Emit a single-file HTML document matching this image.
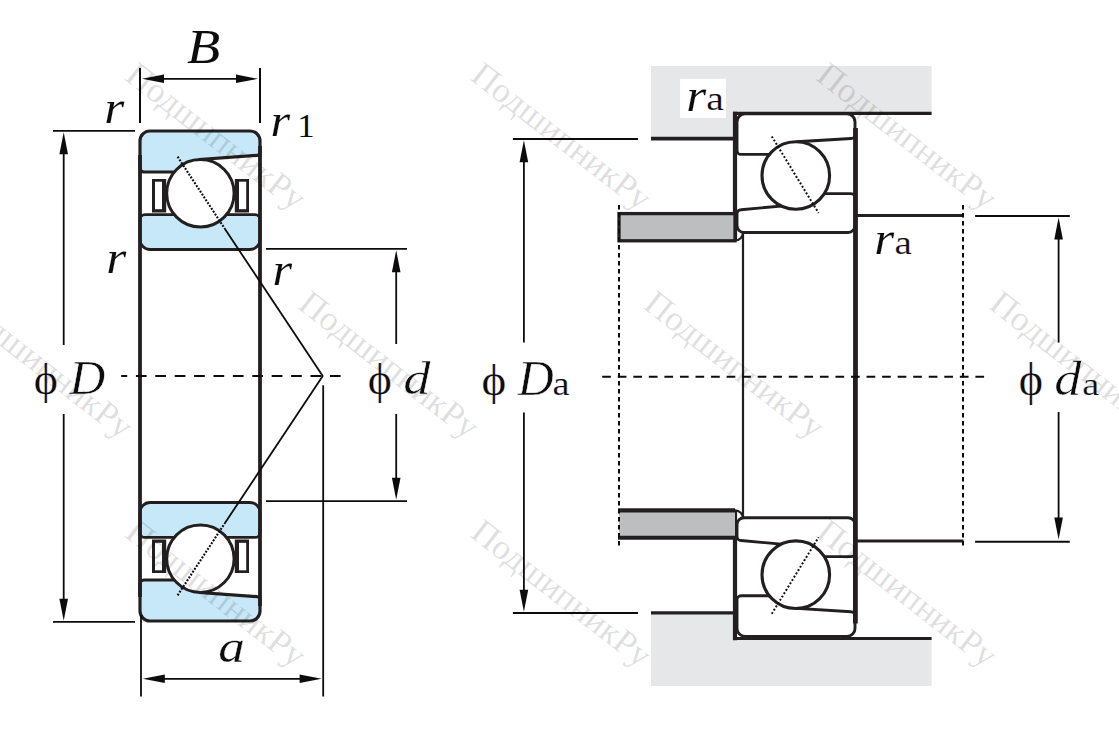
<!DOCTYPE html>
<html><head><meta charset="utf-8"><style>
html,body{margin:0;padding:0;background:#fff;overflow:hidden;}
svg{display:block;font-family:"Liberation Serif",serif;}
</style></head><body>
<svg width="1119" height="738" viewBox="0 0 1119 738">
<g stroke="#231f20" fill="none">
<g>
<path d="M150,131 H250 A10,10 0 0 1 260,141 V152.4 A3,3 0 0 1 257,155.4 L200.4,159.4 L200.4,193.3 L176,172 H144 A4,4 0 0 1 140,168 V141 A10,10 0 0 1 150,131 Z" fill="#c7e8f8" stroke="#231f20" stroke-width="3.2"/>
<path d="M145,214.6 H255 A5,5 0 0 1 260,219.6 V239.5 A10,10 0 0 1 250,249.5 H150 A10,10 0 0 1 140,239.5 V219.6 A5,5 0 0 1 145,214.6 Z" fill="#c7e8f8" stroke="#231f20" stroke-width="2.8"/>
<rect x="152" y="179" width="14.2" height="33.5" fill="#231f20" stroke="none"/>
<rect x="155" y="181.7" width="7" height="27.5" fill="#fff" stroke="none"/>
<rect x="234.8" y="179" width="14.2" height="33.5" fill="#231f20" stroke="none"/>
<rect x="239" y="181.7" width="7.2" height="27.5" fill="#fff" stroke="none"/>
<circle cx="200.4" cy="193.3" r="33.7" fill="#fff" stroke="#231f20" stroke-width="3"/>
<line x1="140" y1="155" x2="140" y2="376" stroke-width="3.8"/>
<line x1="260" y1="146" x2="260" y2="376" stroke-width="3.8"/>
<line x1="177.6" y1="156.7" x2="224.3" y2="228" stroke="#0d0b0b" stroke-width="2.1" stroke-dasharray="1.9 1.51"/>
<line x1="224.3" y1="228" x2="322.9" y2="376.3" stroke="#0d0b0b" stroke-width="1.8"/>
</g>
<g transform="matrix(1 0 0 -1 0 752)">
<path d="M150,131 H250 A10,10 0 0 1 260,141 V152.4 A3,3 0 0 1 257,155.4 L200.4,159.4 L200.4,193.3 L176,172 H144 A4,4 0 0 1 140,168 V141 A10,10 0 0 1 150,131 Z" fill="#c7e8f8" stroke="#231f20" stroke-width="3.2"/>
<path d="M145,214.6 H255 A5,5 0 0 1 260,219.6 V239.5 A10,10 0 0 1 250,249.5 H150 A10,10 0 0 1 140,239.5 V219.6 A5,5 0 0 1 145,214.6 Z" fill="#c7e8f8" stroke="#231f20" stroke-width="2.8"/>
<rect x="152" y="179" width="14.2" height="33.5" fill="#231f20" stroke="none"/>
<rect x="155" y="181.7" width="7" height="27.5" fill="#fff" stroke="none"/>
<rect x="234.8" y="179" width="14.2" height="33.5" fill="#231f20" stroke="none"/>
<rect x="239" y="181.7" width="7.2" height="27.5" fill="#fff" stroke="none"/>
<circle cx="200.4" cy="193.3" r="33.7" fill="#fff" stroke="#231f20" stroke-width="3"/>
<line x1="140" y1="155" x2="140" y2="376" stroke-width="3.8"/>
<line x1="260" y1="146" x2="260" y2="376" stroke-width="3.8"/>
<line x1="177.6" y1="156.7" x2="224.3" y2="228" stroke="#0d0b0b" stroke-width="2.1" stroke-dasharray="1.9 1.51"/>
<line x1="224.3" y1="228" x2="322.9" y2="376.3" stroke="#0d0b0b" stroke-width="1.8"/>
</g>
</g>
<g stroke="#0d0b0b" fill="none">
<line x1="140" y1="68" x2="140" y2="123" stroke-width="2.0" />
<line x1="260" y1="68" x2="260" y2="123" stroke-width="2.0" />
<line x1="150" y1="78.8" x2="250" y2="78.8" stroke-width="1.7" />
<polygon points="142,78.8 164.00,74.50 164.00,83.10" fill="#0d0b0b" stroke="none"/>
<polygon points="258,78.8 236.00,83.10 236.00,74.50" fill="#0d0b0b" stroke="none"/>
<line x1="53" y1="130.9" x2="135" y2="130.9" stroke-width="1.8" />
<line x1="53" y1="621.9" x2="135" y2="621.9" stroke-width="1.8" />
<line x1="63.7" y1="150" x2="63.7" y2="345" stroke-width="1.8" />
<line x1="63.7" y1="414" x2="63.7" y2="603" stroke-width="1.8" />
<polygon points="63.7,132.2 68.00,154.20 59.40,154.20" fill="#0d0b0b" stroke="none"/>
<polygon points="63.7,620.8 59.40,598.80 68.00,598.80" fill="#0d0b0b" stroke="none"/>
<line x1="266" y1="248.8" x2="407" y2="248.8" stroke-width="1.8" />
<line x1="266" y1="501.2" x2="407" y2="501.2" stroke-width="1.8" />
<line x1="396.2" y1="262" x2="396.2" y2="344" stroke-width="1.8" />
<line x1="396.2" y1="414" x2="396.2" y2="488" stroke-width="1.8" />
<polygon points="396.2,250.2 400.50,272.20 391.90,272.20" fill="#0d0b0b" stroke="none"/>
<polygon points="396.2,499.8 391.90,477.80 400.50,477.80" fill="#0d0b0b" stroke="none"/>
<line x1="141" y1="615" x2="141" y2="696.5" stroke-width="1.8" />
<line x1="323.2" y1="385.3" x2="323.2" y2="696.5" stroke-width="1.8" />
<line x1="150" y1="678.8" x2="310" y2="678.8" stroke-width="1.7" />
<polygon points="142.8,678.8 164.80,674.50 164.80,683.10" fill="#0d0b0b" stroke="none"/>
<polygon points="321.6,678.8 299.60,683.10 299.60,674.50" fill="#0d0b0b" stroke="none"/>
<line x1="121.2" y1="376" x2="340.6" y2="376" stroke-width="1.9" stroke-dasharray="10.7 8.7" stroke-dashoffset="4.7"/>
</g>
<g fill="#0d0b0b" stroke="none">
<text transform="translate(186.96 63.40) scale(1.0979 1)" font-size="49.47" font-style="italic" stroke="#fff" stroke-width="0.0">B</text>
<text transform="translate(104.14 123.43) scale(1.1020 1)" font-size="46.67" font-style="italic" stroke="#fff" stroke-width="0.1">r</text>
<text transform="translate(270.49 136.13) scale(1.0978 1)" font-size="45.81" font-style="italic" stroke="#fff" stroke-width="0.1">r</text>
<text transform="translate(297.16 136.90) scale(1.0378 1)" font-size="33.59" stroke="#fff" stroke-width="0.0">1</text>
<text transform="translate(106.14 273.43) scale(1.1020 1)" font-size="46.67" font-style="italic" stroke="#fff" stroke-width="0.1">r</text>
<text transform="translate(272.49 285.23) scale(1.0776 1)" font-size="46.67" font-style="italic" stroke="#fff" stroke-width="0.1">r</text>
<text transform="translate(33.69 393.99) scale(1.0139 1)" font-size="45.30" stroke="#fff" stroke-width="0.2">ϕ</text>
<text transform="translate(69.50 393.90) scale(1.0071 1)" font-size="49.16" font-style="italic" stroke="#fff" stroke-width="0.5">D</text>
<text transform="translate(367.80 394.27) scale(1.0152 1)" font-size="45.14" stroke="#fff" stroke-width="0.2">ϕ</text>
<text transform="translate(403.37 393.93) scale(1.1502 1)" font-size="47.36" font-style="italic" stroke="#fff" stroke-width="0.5">d</text>
<text transform="translate(218.30 662.43) scale(1.1412 1)" font-size="46.67" font-style="italic" stroke="#fff" stroke-width="0.3">a</text>
</g>
<g stroke="#231f20" fill="none">
<path d="M651,66 H931.6 V113.8 H735 V138.6 H651 Z" fill="#e6e7e8" stroke="none"/>
<path d="M651,686 H931.6 V638.2 H735 V613.4 H651 Z" fill="#e6e7e8" stroke="none"/>
<rect x="680.1" y="78.9" width="45.8" height="39" fill="#fff" stroke="none"/>
<g>
<path d="M745,113.8 H847 A8,8 0 0 1 855,121.8 V134.5 A4,4 0 0 1 851,138.5 L798,141.7 L795.8,175.5 L772,154.4 H741 A4,4 0 0 1 737,150.4 V121.8 A8,8 0 0 1 745,113.8 Z" fill="#fff" stroke="#231f20" stroke-width="2.9"/>
<path d="M741,209.7 L786,205.6 L795.8,175.5 L823,193.6 H851 A4,4 0 0 1 855,197.6 V225.5 A7,7 0 0 1 848,232.5 H744 A7,7 0 0 1 737,225.5 V213.7 A4,4 0 0 1 741,209.7 Z" fill="#fff" stroke="#231f20" stroke-width="2.9"/>
<circle cx="795.8" cy="175.5" r="33.8" fill="#fff" stroke="#231f20" stroke-width="3.1"/>
<line x1="771.8" y1="136.4" x2="818.5" y2="212.9" stroke="#0d0b0b" stroke-width="2.0" stroke-dasharray="1.9 1.97"/>
</g>
<g transform="matrix(1 0 0 -1 0 750.2)">
<path d="M745,113.8 H847 A8,8 0 0 1 855,121.8 V134.5 A4,4 0 0 1 851,138.5 L798,141.7 L795.8,175.5 L772,154.4 H741 A4,4 0 0 1 737,150.4 V121.8 A8,8 0 0 1 745,113.8 Z" fill="#fff" stroke="#231f20" stroke-width="2.9"/>
<path d="M741,209.7 L786,205.6 L795.8,175.5 L823,193.6 H851 A4,4 0 0 1 855,197.6 V225.5 A7,7 0 0 1 848,232.5 H744 A7,7 0 0 1 737,225.5 V213.7 A4,4 0 0 1 741,209.7 Z" fill="#fff" stroke="#231f20" stroke-width="2.9"/>
<circle cx="795.8" cy="175.5" r="33.8" fill="#fff" stroke="#231f20" stroke-width="3.1"/>
<line x1="771.8" y1="136.4" x2="818.5" y2="212.9" stroke="#0d0b0b" stroke-width="2.0" stroke-dasharray="1.9 1.97"/>
</g>
<line x1="651" y1="138.6" x2="737" y2="138.6" stroke-width="3.6" />
<line x1="735" y1="111.8" x2="735" y2="240.5" stroke-width="4.2" />
<line x1="733" y1="113.4" x2="931.6" y2="113.4" stroke-width="3.2" />
<line x1="855.5" y1="128" x2="855.5" y2="376" stroke-width="4.8" />
<line x1="651" y1="612.9" x2="737" y2="612.9" stroke-width="3.4" />
<line x1="735" y1="640.2" x2="735" y2="510.4" stroke-width="4.2" />
<line x1="733" y1="638.4" x2="931.6" y2="638.4" stroke-width="3.0" />
<line x1="855.4" y1="376" x2="855.4" y2="623.5" stroke-width="4.8" />
<rect x="619" y="213.6" width="116" height="27.2" fill="#bcbec0" stroke="#231f20" stroke-width="3.3"/>
<rect x="619" y="510.4" width="116" height="27.4" fill="#bcbec0" stroke="none"/>
<line x1="618" y1="510.4" x2="735" y2="510.4" stroke-width="4.3" />
<line x1="618" y1="537.8" x2="735" y2="537.8" stroke-width="4.0" />
<path d="M735,240.5 A8,8 0 0 0 743,232.5" stroke-width="2.2"/>
<path d="M735,510.4 A8,8 0 0 1 743,518.5" stroke-width="2.2"/>
<line x1="743" y1="232.5" x2="743" y2="518.5" stroke-width="2.2" />
<line x1="856" y1="215.5" x2="963.5" y2="215.5" stroke-width="3.0" />
<line x1="856" y1="541" x2="963.5" y2="541" stroke-width="3.0" />
</g>
<g stroke="#0d0b0b" fill="none">
<line x1="619" y1="205" x2="619" y2="546" stroke-width="2" stroke-dasharray="4.4 3.6"/>
<line x1="963" y1="205" x2="963" y2="546" stroke-width="2" stroke-dasharray="4.4 3.6"/>
<line x1="512.9" y1="139" x2="638" y2="139" stroke-width="2.0" />
<line x1="512.9" y1="612.9" x2="638" y2="612.9" stroke-width="2.0" />
<line x1="523.9" y1="155" x2="523.9" y2="342.5" stroke-width="1.8" />
<line x1="523.9" y1="412.4" x2="523.9" y2="596" stroke-width="1.8" />
<polygon points="523.9,140.2 528.20,162.20 519.60,162.20" fill="#0d0b0b" stroke="none"/>
<polygon points="523.9,611.7 519.60,589.70 528.20,589.70" fill="#0d0b0b" stroke="none"/>
<line x1="975.1" y1="215.9" x2="1069.8" y2="215.9" stroke-width="2.0" />
<line x1="975.1" y1="541.8" x2="1069.8" y2="541.8" stroke-width="2.0" />
<line x1="1058.6" y1="232" x2="1058.6" y2="342.6" stroke-width="1.8" />
<line x1="1058.6" y1="412" x2="1058.6" y2="525" stroke-width="1.8" />
<polygon points="1058.6,217.5 1062.90,239.50 1054.30,239.50" fill="#0d0b0b" stroke="none"/>
<polygon points="1058.6,539.5 1054.30,517.50 1062.90,517.50" fill="#0d0b0b" stroke="none"/>
<line x1="602.2" y1="376.8" x2="984.1" y2="376.8" stroke-width="1.9" stroke-dasharray="8.7 6.85"/>
</g>
<g fill="#0d0b0b" stroke="none">
<text transform="translate(686.25 110.54) scale(1.0810 1)" font-size="47.31" font-style="italic" stroke="#fff" stroke-width="0.1">r</text>
<text transform="translate(706.21 110.26) scale(1.1800 1)" font-size="33.68" stroke="#fff" stroke-width="0.2">a</text>
<text transform="translate(874.35 254.33) scale(1.1010 1)" font-size="46.45" font-style="italic" stroke="#fff" stroke-width="0.1">r</text>
<text transform="translate(894.43 254.17) scale(1.1948 1)" font-size="32.84" stroke="#fff" stroke-width="0.2">a</text>
<text transform="translate(481.45 395.09) scale(1.0382 1)" font-size="45.30" stroke="#fff" stroke-width="0.2">ϕ</text>
<text transform="translate(517.70 394.90) scale(0.9973 1)" font-size="49.92" font-style="italic" stroke="#fff" stroke-width="0.5">D</text>
<text transform="translate(552.45 395.07) scale(1.1642 1)" font-size="33.05" stroke="#fff" stroke-width="0.2">a</text>
<text transform="translate(1018.68 394.96) scale(1.0163 1)" font-size="45.41" stroke="#fff" stroke-width="0.2">ϕ</text>
<text transform="translate(1054.37 395.11) scale(1.1170 1)" font-size="48.57" font-style="italic" stroke="#fff" stroke-width="0.5">d</text>
<text transform="translate(1082.35 394.78) scale(1.2025 1)" font-size="32.00" stroke="#fff" stroke-width="0.2">a</text>
</g>
<g fill="#000" fill-opacity="0.135" stroke="none" font-size="35.2">
<text x="123.5" y="79.0" transform="rotate(37.8 123.5 79.0)">ПодшипникРу</text>
<text x="469.0" y="79.0" transform="rotate(37.8 469.0 79.0)">ПодшипникРу</text>
<text x="814.5" y="79.0" transform="rotate(37.8 814.5 79.0)">ПодшипникРу</text>
<text x="-49.5" y="307.5" transform="rotate(37.8 -49.5 307.5)">ПодшипникРу</text>
<text x="296.5" y="307.5" transform="rotate(37.8 296.5 307.5)">ПодшипникРу</text>
<text x="642.0" y="307.5" transform="rotate(37.8 642.0 307.5)">ПодшипникРу</text>
<text x="987.5" y="307.5" transform="rotate(37.8 987.5 307.5)">ПодшипникРу</text>
<text x="123.5" y="536.0" transform="rotate(37.8 123.5 536.0)">ПодшипникРу</text>
<text x="469.0" y="536.0" transform="rotate(37.8 469.0 536.0)">ПодшипникРу</text>
<text x="814.5" y="536.0" transform="rotate(37.8 814.5 536.0)">ПодшипникРу</text>
</g>
</svg></body></html>
